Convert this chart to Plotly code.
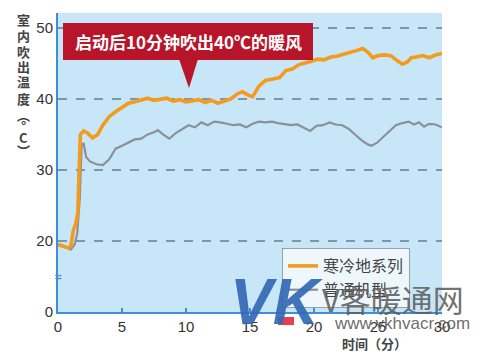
import plotly.graph_objects as go

# ---------------- data ----------------
t_orange = [0, 0.4, 0.8, 1.0, 1.2, 1.4, 1.55, 1.65, 1.75, 2.0, 2.3, 2.7, 3.1, 3.5, 4.0, 4.5,
            5.0, 5.5, 6.0, 6.5, 7.0, 7.5, 8.0, 8.5, 9.0, 9.5, 10.0, 10.5, 11.0, 11.5, 12.0,
            12.5, 13.0, 13.5, 14.0, 14.4, 14.8, 15.2, 15.7, 16.2, 16.8, 17.3, 17.8, 18.3,
            18.8, 19.3, 19.8, 20.3, 20.8, 21.3, 21.8, 22.3, 22.8, 23.3, 23.8, 24.2, 24.6,
            25.0, 25.5, 26.0, 26.5, 26.9, 27.3, 27.6, 28.0, 28.5, 29.0, 29.5, 30.0]
v_orange = [19.5, 19.2, 19.0, 19.3, 21.5, 22.5, 24.0, 30.0, 35.0, 35.5, 35.2, 34.5, 35.0, 36.3,
            37.5, 38.2, 38.8, 39.4, 39.6, 39.9, 40.1, 39.8, 40.0, 40.1, 39.7, 39.9, 39.6, 39.8,
            39.9, 39.5, 39.8, 39.4, 39.7, 40.0, 40.7, 41.0, 40.6, 40.3, 41.8, 42.6, 42.8, 43.0,
            44.0, 44.2, 44.8, 45.0, 45.3, 45.6, 45.5, 45.9, 46.0, 46.3, 46.5, 46.8, 47.1, 46.6,
            45.8, 46.1, 46.2, 46.1, 45.4, 44.9, 45.2, 45.8, 45.9, 46.1, 45.8, 46.2, 46.4]

t_gray = [0, 0.5, 1.0, 1.3, 1.5, 1.7, 1.85, 2.0, 2.2, 2.5, 3.0, 3.5, 4.0, 4.5, 5.0, 5.5, 6.0,
          6.5, 7.0, 7.5, 7.8, 8.2, 8.7, 9.2, 9.7, 10.2, 10.7, 11.2, 11.7, 12.2, 12.7, 13.2,
          13.7, 14.2, 14.7, 15.2, 15.7, 16.2, 16.7, 17.2, 17.7, 18.2, 18.7, 19.2, 19.7, 20.2,
          20.7, 21.2, 21.7, 22.2, 22.7, 23.2, 23.7, 24.2, 24.5, 24.9, 25.4, 25.9, 26.4, 26.9,
          27.4, 27.8, 28.2, 28.6, 29.0, 29.5, 30.0]
v_gray = [19.5, 19.3, 18.8, 19.5, 21.0, 26.0, 33.5, 33.8, 31.8, 31.2, 30.8, 30.7, 31.5, 33.0,
          33.4, 33.8, 34.3, 34.4, 35.0, 35.3, 35.6, 35.0, 34.4, 35.2, 35.8, 36.3, 36.0, 36.7,
          36.3, 36.8, 36.7, 36.5, 36.3, 36.4, 36.0, 36.5, 36.8, 36.7, 36.8, 36.6, 36.5, 36.3,
          36.4, 35.9, 35.5, 36.2, 36.3, 36.7, 36.4, 36.3, 35.8, 35.0, 34.2, 33.6, 33.4, 33.8,
          34.6, 35.5, 36.3, 36.6, 36.8, 36.4, 36.7, 36.1, 36.5, 36.4, 36.0]

series_names = ["寒冷地系列", "普通机型"]
x_tickvals = [0, 5, 10, 15, 20, 25, 30]
y_tickvals = [10, 20, 30, 40, 50]
y_ticktext = ["0", "20", "30", "40", "50"]
callout_text = "启动后10分钟吹出40℃的暖风"
y_title_chars = ["室", "内", "吹", "出", "温", "度", "︵", "°", "C", "︶"]

# ---------------- layout constants ----------------
W, H = 500, 354
L, R, T, B = 58, 58, 13, 42
PW, PH = W - L - R, H - T - B

def px(xp):
    return (xp - L) / PW

def py(yp):
    return (H - B - yp) / PH

CJK = "Noto Sans CJK SC"
LAT = "Liberation Sans"

fig = go.Figure()
fig.add_trace(go.Scatter(x=t_gray, y=v_gray, mode="lines", name=series_names[1],
                         line=dict(color="#8c9196", width=2.2)))
fig.add_trace(go.Scatter(x=t_orange, y=v_orange, mode="lines", name=series_names[0],
                         line=dict(color="#f39b1f", width=3.6)))

fig.update_layout(
    width=W, height=H,
    margin=dict(l=L, r=R, t=T, b=B),
    paper_bgcolor="white",
    plot_bgcolor="#c7e6f8",
    showlegend=True,
    legend=dict(x=px(282), y=py(248), xanchor="left", yanchor="top",
                bgcolor="rgba(245,250,253,0.85)", bordercolor="#9aa0a6", borderwidth=1,
                font=dict(family=CJK, size=16, color="#444"),
                traceorder="reversed", itemwidth=30, tracegroupgap=0),
    xaxis=dict(range=[0, 30], tickvals=x_tickvals, showgrid=False, zeroline=False,
               showline=True, linecolor="#3d8fd8", linewidth=2,
               ticks="inside", ticklen=4, tickcolor="#3d8fd8", tickwidth=1.5,
               tickfont=dict(family=LAT, size=15, color="#333")),
    yaxis=dict(range=[10, 52.1], tickvals=y_tickvals, ticktext=y_ticktext,
               showgrid=True, gridcolor="#8494a0", gridwidth=1.6, griddash="dash",
               zeroline=False, showline=True, linecolor="#3d8fd8", linewidth=2,
               ticks="", tickfont=dict(family=LAT, size=15, color="#333")),
)

shapes = []
# callout box
shapes.append(dict(type="rect", xref="paper", yref="paper",
                   x0=px(63), x1=px(313), y0=py(60), y1=py(23),
                   fillcolor="#b8152a", line=dict(width=0), layer="above"))
shapes.append(dict(type="path", xref="paper", yref="paper",
                   path=f"M {px(179)} {py(59)} L {px(198)} {py(59)} L {px(189)} {py(88)} Z",
                   fillcolor="#b8152a", line=dict(width=0), layer="above"))
# watermark red square
shapes.append(dict(type="rect", xref="paper", yref="paper",
                   x0=px(278), x1=px(294), y0=py(325), y1=py(317),
                   fillcolor="#e8404f", line=dict(width=0), layer="above"))
fig.update_layout(shapes=shapes)

ann = []
ann.append(dict(xref="paper", yref="paper", x=px(188), y=py(41), text=f"<b>{callout_text}</b>",
                showarrow=False, font=dict(family=CJK, size=17, color="white"),
                xanchor="center", yanchor="middle"))
# y title (vertical stacked)
y_pos = [20, 36, 51, 66, 82, 98, 114, 126, 137, 150]
for ch, yp in zip(y_title_chars, y_pos):
    ann.append(dict(xref="paper", yref="paper", x=px(23), y=py(yp), text=f"<b>{ch}</b>",
                    showarrow=False, xanchor="center", yanchor="middle",
                    font=dict(family=CJK, size=13, color="#444")))
# axis break mark
ann.append(dict(xref="paper", yref="paper", x=0, y=py(277), text="<b>≈</b>", showarrow=False,
                xanchor="center", yanchor="middle",
                font=dict(family=LAT, size=12, color="#3d8fd8")))
# x title
ann.append(dict(xref="paper", yref="paper", x=px(374), y=py(343), text="<b>时间（分）</b>",
                showarrow=False, xanchor="center", yanchor="middle",
                font=dict(family=CJK, size=13, color="#444")))
# watermark
ann.append(dict(xref="paper", yref="paper", x=px(228), y=py(302), text="<b><i>VK</i></b>",
                showarrow=False, xanchor="left", yanchor="middle",
                font=dict(family=LAT, size=64, color="rgba(52,104,180,0.92)")))
ann.append(dict(xref="paper", yref="paper", x=px(320), y=py(298), text="V客暖通网",
                showarrow=False, xanchor="left", yanchor="middle",
                font=dict(family=CJK, size=31, color="rgba(95,95,95,0.9)")))
ann.append(dict(xref="paper", yref="paper", x=px(332), y=py(323), text="www.vkhvacr.com",
                showarrow=False, xanchor="left", yanchor="middle",
                font=dict(family=LAT, size=17, color="rgba(90,90,90,0.9)")))
fig.update_layout(annotations=ann)

fig.write_html("out.html")
